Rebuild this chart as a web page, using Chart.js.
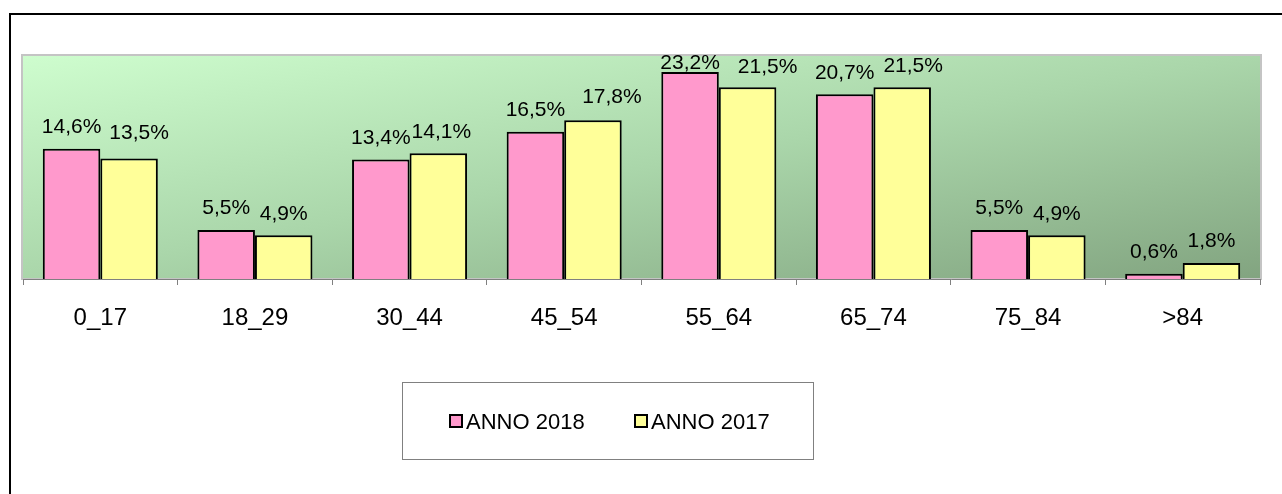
<!DOCTYPE html>
<html>
<head>
<meta charset="utf-8">
<script src="https://cdn.jsdelivr.net/npm/chart.js@4/dist/chart.umd.min.js"></script>
<style>
  html, body { margin: 0; padding: 0; background: #fff; }
  canvas { display: block; }
</style>
</head>
<body>
<canvas id="ageChart" width="1282" height="494"></canvas>
<script>
// Age groups and share of cases per year (%)
const ageGroups = ["0_17", "18_29", "30_44", "45_54", "55_64", "65_74", "75_84", ">84"];
const anno2018 = [14.6, 5.5, 13.4, 16.5, 23.2, 20.7, 5.5, 0.6];
const anno2017 = [13.5, 4.9, 14.1, 17.8, 21.5, 21.5, 4.9, 1.8];
const seriesLabels = ["ANNO 2018", "ANNO 2017"];
const yMax = 25;

const FONT = "'Liberation Sans', Arial, sans-serif";

// Frame around the whole chart plus gradient fill of the plot area
const backgroundPlugin = {
  id: "plotBackground",
  beforeDraw(chart) {
    const ctx = chart.ctx;
    const a = chart.chartArea;
    ctx.save();
    ctx.strokeStyle = "#000";
    ctx.lineWidth = 2;
    ctx.beginPath();
    ctx.moveTo(10, 500);
    ctx.lineTo(10, 14);
    ctx.lineTo(1290, 14);
    ctx.stroke();

    // diagonal gradient in unit-square space so it runs corner to corner
    ctx.save();
    ctx.translate(a.left, a.top);
    ctx.scale(a.right - a.left, a.bottom - a.top);
    const g = ctx.createLinearGradient(0, 0, 1, 1);
    g.addColorStop(0, "rgb(206,253,206)");
    g.addColorStop(0.5, "rgb(170,214,170)");
    g.addColorStop(1, "rgb(130,164,128)");
    ctx.fillStyle = g;
    ctx.fillRect(0, 0, 1, 1);
    ctx.restore();

    ctx.strokeStyle = "#c4c4c4";
    ctx.lineWidth = 2;
    ctx.strokeRect(a.left - 1, a.top - 1, a.right - a.left + 2, a.bottom - a.top + 1);
    ctx.restore();
  }
};

// Percent labels over each bar, kept inside the plot area.
// A few 2017 labels are pushed aside where they would crowd the 2018 label.
const labelNudge = { "1-0": [10, -4], "1-2": [3, 0], "1-3": [19, -1.5], "1-4": [20, 1.5], "1-5": [11, 0] };
const valueLabels = {
  id: "valueLabels",
  afterDatasetsDraw(chart) {
    const ctx = chart.ctx;
    ctx.save();
    ctx.font = "21px " + FONT;
    ctx.fillStyle = "#000";
    ctx.textAlign = "center";
    ctx.textBaseline = "alphabetic";
    chart.data.datasets.forEach((ds, i) => {
      chart.getDatasetMeta(i).data.forEach((bar, j) => {
        const txt = ds.data[j].toFixed(1).replace(".", ",") + "%";
        const n = labelNudge[i + "-" + j] || [0, 0];
        const y = Math.max(bar.y - 15.5 + n[1], chart.chartArea.top + 12.5);
        ctx.fillText(txt, bar.x + n[0], y);
      });
    });
    ctx.restore();
  }
};

// Boxed legend under the axis
const boxedLegend = {
  id: "boxedLegend",
  afterDraw(chart) {
    const ctx = chart.ctx;
    ctx.save();
    ctx.strokeStyle = "#808080";
    ctx.lineWidth = 1;
    ctx.strokeRect(402.5, 382.5, 411, 77);
    ctx.font = "22px " + FONT;
    ctx.textBaseline = "alphabetic";
    ctx.textAlign = "left";
    const starts = [450, 635];
    chart.data.datasets.forEach((ds, i) => {
      const x = starts[i];
      ctx.fillStyle = ds.backgroundColor;
      ctx.fillRect(x, 415, 12, 12);
      ctx.strokeStyle = "#000";
      ctx.lineWidth = 2;
      ctx.strokeRect(x, 415, 12, 12);
      ctx.fillStyle = "#000";
      ctx.fillText(ds.label, x + 16, 429);
    });
    ctx.restore();
  }
};

const chart = new Chart(document.getElementById("ageChart"), {
  type: "bar",
  data: {
    labels: ageGroups,
    datasets: [
      {
        label: seriesLabels[0],
        data: anno2018,
        backgroundColor: "#FF99CC",
        borderColor: "#000",
        borderWidth: 2,
        categoryPercentage: 0.744,
        barPercentage: 1.0
      },
      {
        label: seriesLabels[1],
        data: anno2017,
        backgroundColor: "#FFFF99",
        borderColor: "#000",
        borderWidth: 2,
        categoryPercentage: 0.744,
        barPercentage: 1.0
      }
    ]
  },
  options: {
    responsive: false,
    animation: false,
    devicePixelRatio: 1,
    layout: { padding: { left: 23, right: 22, top: 56, bottom: 0 } },
    plugins: {
      legend: { display: false },
      tooltip: { enabled: false }
    },
    scales: {
      x: {
        grid: {
          offset: true,
          drawOnChartArea: false,
          drawTicks: true,
          tickLength: 6,
          color: "#808080"
        },
        border: { color: "#808080", width: 1 },
        ticks: {
          color: "#000",
          font: { family: FONT, size: 24 },
          padding: 19,
          maxRotation: 0
        },
        afterFit(scale) { scale.height = 494 - 279; }
      },
      y: {
        display: false,
        min: 0,
        max: yMax
      }
    }
  },
  plugins: [backgroundPlugin, valueLabels, boxedLegend]
});
</script>
</body>
</html>
